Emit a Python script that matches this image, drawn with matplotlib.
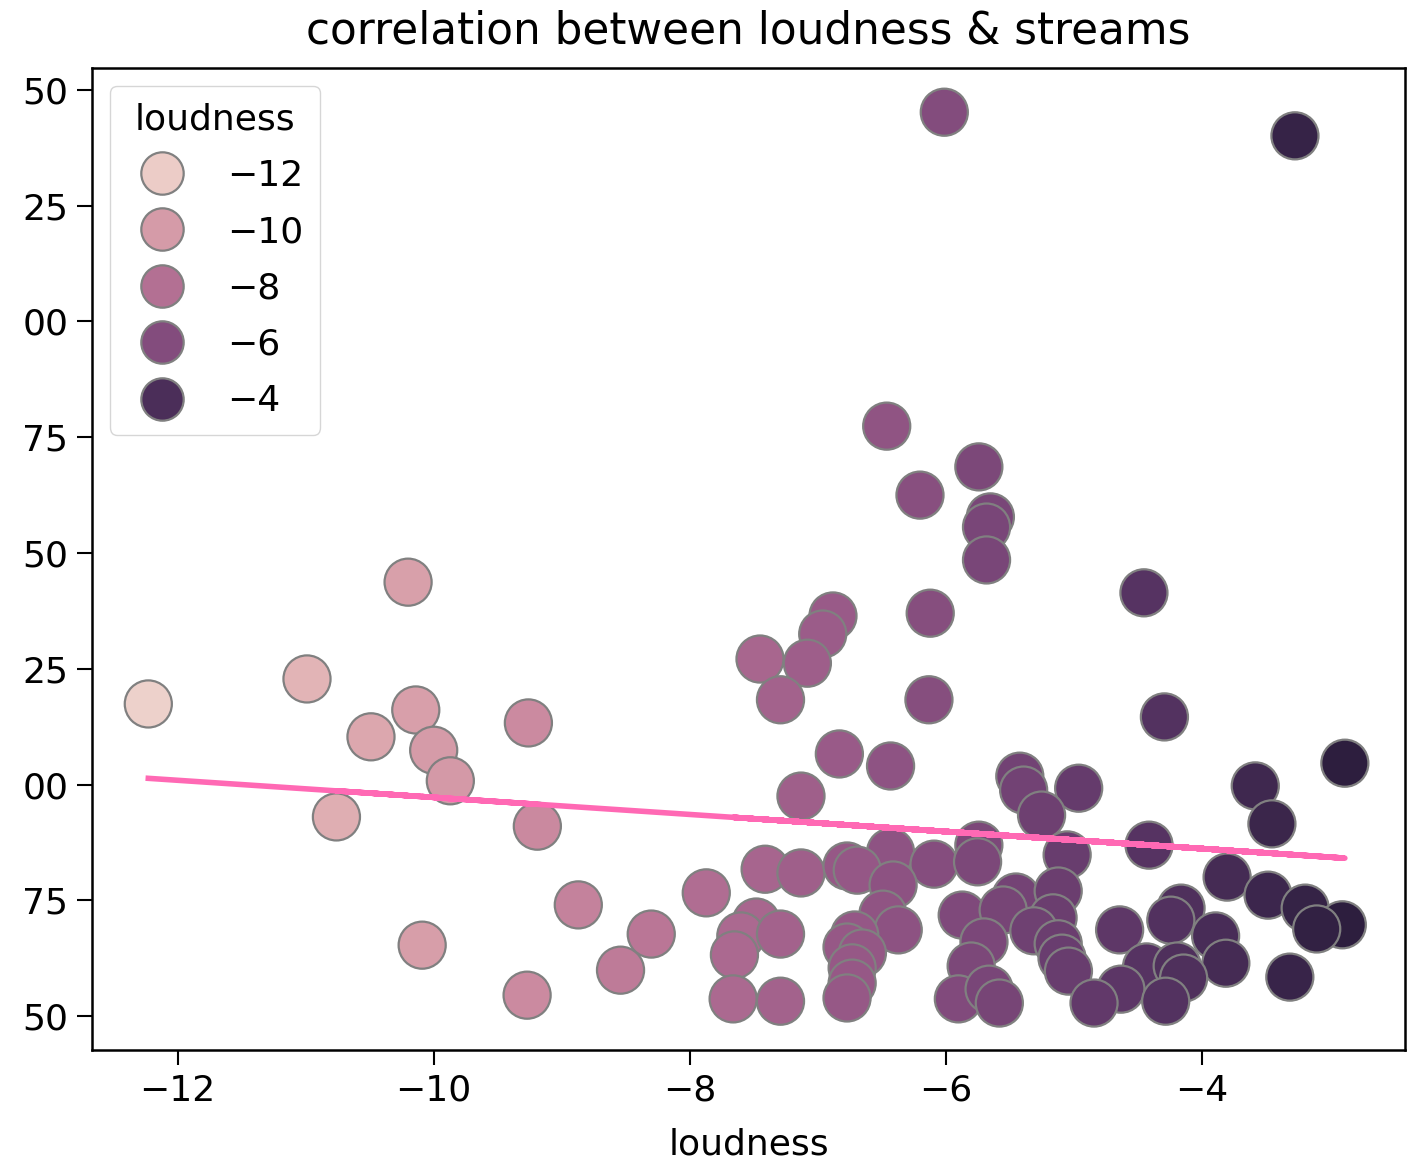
import numpy as np
import pandas as pd
import matplotlib
matplotlib.use("Agg")
import matplotlib.pyplot as plt
import seaborn as sns

# loudness (dB) and streams (billions)
loudness = [-12.23, -10.99, -10.20, -10.49, -10.14, -10.00, -9.87, -10.76, -9.26, -9.19,
            -10.09, -9.27, -8.87, -8.54, -8.30, -7.87, -6.01, -3.27, -6.46, -5.74,
            -6.20, -5.65, -5.68, -5.68, -4.45, -6.12, -6.88, -6.96, -7.45, -7.08,
            -7.29, -6.13, -4.29, -6.83, -6.43, -2.88, -5.42, -5.39, -4.96, -3.58,
            -5.25, -3.45, -7.13, -5.74, -4.41, -5.05, -6.43, -7.41, -7.13, -6.77,
            -6.69, -6.09, -5.75, -6.41, -3.80, -5.45, -5.12, -3.48, -3.19, -2.90,
            -3.10, -4.16, -4.24, -6.49, -5.87, -5.55, -6.37, -5.16, -5.31, -4.64,
            -3.89, -7.48, -7.60, -7.29, -6.71, -6.77, -6.65, -7.65, -5.70, -5.12,
            -5.09, -3.81, -4.43, -4.19, -4.14, -5.04, -5.80, -6.73, -6.73, -3.31,
            -4.63, -6.77, -5.90, -5.66, -5.58, -4.84, -4.28, -7.66, -7.29]
streams = [1.174, 1.228, 1.437, 1.103, 1.161, 1.074, 1.008, 0.930, 1.133, 0.910,
           0.653, 0.545, 0.740, 0.599, 0.677, 0.766, 2.452, 2.401, 1.774, 1.686,
           1.625, 1.578, 1.556, 1.485, 1.414, 1.370, 1.364, 1.325, 1.271, 1.262,
           1.183, 1.183, 1.146, 1.066, 1.040, 1.046, 1.018, 0.988, 0.992, 0.997,
           0.934, 0.915, 0.975, 0.869, 0.869, 0.848, 0.854, 0.817, 0.809, 0.824,
           0.815, 0.828, 0.833, 0.783, 0.800, 0.757, 0.770, 0.761, 0.733, 0.697,
           0.688, 0.733, 0.707, 0.720, 0.718, 0.729, 0.686, 0.712, 0.684, 0.686,
           0.673, 0.703, 0.673, 0.677, 0.675, 0.649, 0.636, 0.632, 0.660, 0.656,
           0.625, 0.614, 0.606, 0.608, 0.582, 0.597, 0.608, 0.604, 0.571, 0.584,
           0.558, 0.539, 0.537, 0.558, 0.528, 0.528, 0.532, 0.537, 0.532]

ytick_vals = [0.50, 0.75, 1.00, 1.25, 1.50, 1.75, 2.00, 2.25, 2.50]
ytick_labels = ["50", "75", "00", "25", "50", "75", "00", "25", "50"]

df = pd.DataFrame({"loudness": loudness, "streams": streams})

fig = plt.figure(figsize=(14.19, 11.6), dpi=100)
ax = fig.add_axes([92 / 1419, 1 - 1050 / 1160, 1313 / 1419, 982 / 1160])

sns.scatterplot(data=df, x="loudness", y="streams", hue="loudness",
                s=1150, edgecolor="gray", linewidth=1.6, ax=ax)

# linear fit
m, b = np.polyfit(df["loudness"], df["streams"], 1)
ax.plot(df["loudness"], m * df["loudness"] + b, color="#ff69b4", linewidth=4)

ax.set_xlim(-12.67, -2.41)
ax.set_ylim(0.4266, 2.5475)
ax.set_xticks([-12, -10, -8, -6, -4])
ax.set_yticks(ytick_vals)
ax.set_yticklabels(ytick_labels)
ax.tick_params(labelsize=26, length=11, width=1.5, pad=6)
for s in ax.spines.values():
    s.set_linewidth(1.8)
ax.set_xlabel("loudness", fontsize=26, labelpad=14)
ax.set_ylabel("")
ax.set_title("correlation between loudness & streams", fontsize=31.5, pad=18)

leg = ax.legend(title="loudness", loc="upper left", fontsize=26, title_fontsize=26,
                markerscale=1.0, borderpad=0.45, labelspacing=0.62, handletextpad=0.8,
                borderaxespad=0.5)
for h in leg.legend_handles:
    try:
        h.set_markersize(np.sqrt(1150) * 0.9)
    except AttributeError:
        pass

fig.savefig("out.png", dpi=100)
